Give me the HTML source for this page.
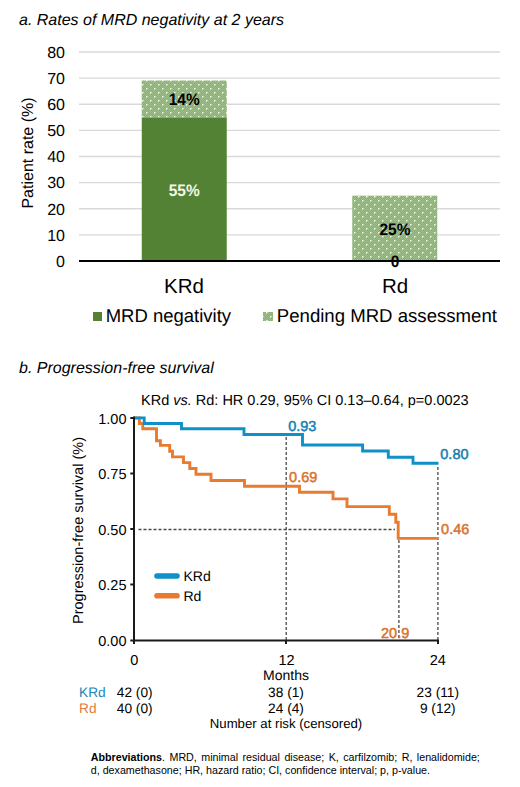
<!DOCTYPE html>
<html><head><meta charset="utf-8">
<style>
html,body{margin:0;padding:0;background:#fff;}
body{width:520px;height:787px;overflow:hidden;position:relative;font-family:"Liberation Sans",sans-serif;}
svg{position:absolute;left:0;top:0;}
text{font-family:"Liberation Sans",sans-serif;text-rendering:geometricPrecision;}
.foot{position:absolute;left:90.8px;font-size:10.7px;color:#000;white-space:nowrap;line-height:12.7px;}
</style></head>
<body>
<svg width="520" height="787" viewBox="0 0 520 787">
<defs>
<pattern id="dots" x="0" y="0" width="8" height="8" patternUnits="userSpaceOnUse">
<rect width="8" height="8" fill="#a0c08b"/>
<g fill="#8aad75"><rect x="1" y="0" width="1" height="1"/><rect x="3" y="0" width="1" height="1"/><rect x="5" y="0" width="1" height="1"/><rect x="7" y="0" width="1" height="1"/><rect x="0" y="1" width="1" height="1"/><rect x="2" y="1" width="1" height="1"/><rect x="4" y="1" width="1" height="1"/><rect x="6" y="1" width="1" height="1"/><rect x="1" y="2" width="1" height="1"/><rect x="3" y="2" width="1" height="1"/><rect x="5" y="2" width="1" height="1"/><rect x="7" y="2" width="1" height="1"/><rect x="0" y="3" width="1" height="1"/><rect x="2" y="3" width="1" height="1"/><rect x="4" y="3" width="1" height="1"/><rect x="6" y="3" width="1" height="1"/><rect x="1" y="4" width="1" height="1"/><rect x="3" y="4" width="1" height="1"/><rect x="5" y="4" width="1" height="1"/><rect x="7" y="4" width="1" height="1"/><rect x="0" y="5" width="1" height="1"/><rect x="2" y="5" width="1" height="1"/><rect x="4" y="5" width="1" height="1"/><rect x="6" y="5" width="1" height="1"/><rect x="1" y="6" width="1" height="1"/><rect x="3" y="6" width="1" height="1"/><rect x="5" y="6" width="1" height="1"/><rect x="7" y="6" width="1" height="1"/><rect x="0" y="7" width="1" height="1"/><rect x="2" y="7" width="1" height="1"/><rect x="4" y="7" width="1" height="1"/><rect x="6" y="7" width="1" height="1"/></g>
<g fill="#c4dfb2"><rect x="3" y="0" width="1" height="1"/><rect x="2" y="1" width="1" height="1"/><rect x="7" y="4" width="1" height="1"/><rect x="6" y="5" width="1" height="1"/></g>
<g fill="#eefae6"><rect x="2" y="0" width="1" height="1"/><rect x="6" y="4" width="1" height="1"/></g>
</pattern>
</defs>

<!-- ============ PANEL A ============ -->
<text x="19" y="25.2" font-size="16" font-style="italic" fill="#000">a. Rates of MRD negativity at 2 years</text>

<!-- gridlines -->
<g stroke="#d9d9d9" stroke-width="1.3">
<line x1="79" y1="52" x2="500" y2="52"/>
<line x1="79" y1="78.1" x2="500" y2="78.1"/>
<line x1="79" y1="104.25" x2="500" y2="104.25"/>
<line x1="79" y1="130.4" x2="500" y2="130.4"/>
<line x1="79" y1="156.5" x2="500" y2="156.5"/>
<line x1="79" y1="182.6" x2="500" y2="182.6"/>
<line x1="79" y1="208.75" x2="500" y2="208.75"/>
<line x1="79" y1="234.9" x2="500" y2="234.9"/>
</g>

<!-- y labels -->
<g font-size="16" fill="#000" text-anchor="end">
<text x="65" y="57.7">80</text>
<text x="65" y="83.8">70</text>
<text x="65" y="110">60</text>
<text x="65" y="136.1">50</text>
<text x="65" y="162.2">40</text>
<text x="65" y="188.3">30</text>
<text x="65" y="214.5">20</text>
<text x="65" y="240.6">10</text>
<text x="65" y="266.7">0</text>
</g>
<text transform="translate(33,153) rotate(-90)" font-size="16" text-anchor="middle" fill="#000">Patient rate (%)</text>

<!-- bars -->
<rect x="141.75" y="117.3" width="85" height="143.7" fill="#548235"/>
<rect x="141.75" y="80.5" width="85" height="36.8" fill="url(#dots)"/>
<rect x="352.25" y="195.7" width="85" height="65.3" fill="url(#dots)"/>

<!-- axis -->
<line x1="79" y1="261" x2="500" y2="261" stroke="#000" stroke-width="2"/>

<!-- bar labels -->
<g font-size="15.5" font-weight="bold" text-anchor="middle">
<text transform="translate(184.25,104.7) scale(1,1.07)" fill="#000">14%</text>
<text transform="translate(184.25,195.8) scale(1,1.07)" fill="#f1f9e8">55%</text>
<text transform="translate(395,234.7) scale(1,1.07)" fill="#000">25%</text>
<text transform="translate(395,266.9) scale(1,1.07)" fill="#000">0</text>
</g>

<!-- category labels -->
<g font-size="20.5" text-anchor="middle" fill="#000">
<text x="184" y="293.3">KRd</text>
<text x="395" y="293.4">Rd</text>
</g>

<!-- legend -->
<rect x="93" y="312" width="9" height="9" fill="#548235"/>
<text x="105.7" y="321.9" font-size="18.5" fill="#000">MRD negativity</text>
<rect x="263" y="312" width="10" height="9" fill="url(#dots)"/>
<text x="276.8" y="321.9" font-size="18.6" fill="#000">Pending MRD assessment</text>

<!-- ============ PANEL B ============ -->
<text x="19" y="372.9" font-size="16" font-style="italic" fill="#000">b. Progression-free survival</text>
<text x="141" y="404.6" font-size="14.5" fill="#000">KRd <tspan font-style="italic">vs.</tspan> Rd: HR 0.29, 95% CI 0.13–0.64, p=0.0023</text>

<!-- dashed reference lines -->
<g stroke="#4a4a4a" stroke-width="1.3" stroke-dasharray="3 2" fill="none">
<line x1="138.5" y1="529.5" x2="395" y2="529.5"/>
<line x1="286.2" y1="437" x2="286.2" y2="640"/>
<line x1="398.9" y1="540" x2="398.9" y2="640"/>
<line x1="437.9" y1="467" x2="437.9" y2="640"/>
</g>

<!-- curves -->
<path d="M134 418 H139.4 V423.5 H142.8 V428.8 H156.5 V440.8 H160.4 V445.4 H169.7 V451.2 H172.5 V456.9 H183.5 V462.6 H189.8 V468.5 H196 V474.3 H211 V480.5 H244.5 V486.2 H299.5 V492.3 H333 V498.9 H347 V506.6 H389.3 V514.2 H395.8 V522.3 H398.2 V538.4 H438.5" fill="none" stroke="#e97b30" stroke-width="2.9"/>
<path d="M134 417.9 H144.2 V423.5 H181.5 V428.7 H244 V434.5 H302.5 V445 H362.6 V451 H388.3 V457.2 H413 V463.3 H438.5" fill="none" stroke="#1090c8" stroke-width="2.9"/>

<!-- axes -->
<g stroke="#1a1a1a" stroke-width="2" fill="none">
<line x1="134" y1="416.5" x2="134" y2="644"/>
<line x1="133" y1="640.5" x2="439" y2="640.5"/>
<line x1="130.3" y1="418" x2="134" y2="418"/>
<line x1="130.3" y1="473.5" x2="134" y2="473.5"/>
<line x1="130.3" y1="529" x2="134" y2="529"/>
<line x1="130.3" y1="584.5" x2="134" y2="584.5"/>
<line x1="130.3" y1="640.5" x2="134" y2="640.5"/>
<line x1="286" y1="640" x2="286" y2="644"/>
<line x1="438" y1="640" x2="438" y2="644"/>
</g>

<!-- y labels -->
<g font-size="14.5" fill="#000" text-anchor="end">
<text x="126.5" y="423.8">1.00</text>
<text x="126.5" y="479.2">0.75</text>
<text x="126.5" y="534.7">0.50</text>
<text x="126.5" y="590.2">0.25</text>
<text x="126.5" y="646.3">0.00</text>
</g>
<text transform="translate(83,530.5) rotate(-90)" font-size="14.5" text-anchor="middle" fill="#000">Progression-free survival (%)</text>

<!-- x labels -->
<g font-size="14.5" fill="#000" text-anchor="middle">
<text x="134.2" y="664.7">0</text>
<text x="286.5" y="664.7">12</text>
<text x="437.8" y="664.7">24</text>
</g>
<text x="286" y="680.1" font-size="14" text-anchor="middle" fill="#000">Months</text>

<!-- value labels -->
<g font-size="14.5" stroke-width="0.5">
<text x="288.2" y="430.8" fill="#167fb0" stroke="#167fb0">0.93</text>
<text x="440.3" y="459.1" fill="#167fb0" stroke="#167fb0">0.80</text>
<text x="289.1" y="482.2" fill="#d9722e" stroke="#d9722e">0.69</text>
<text x="441.1" y="534.1" fill="#d9722e" stroke="#d9722e">0.46</text>
<text x="381" y="638.1" fill="#d9722e" stroke="#d9722e">20.9</text>
</g>

<!-- legend -->
<line x1="157" y1="576" x2="177" y2="576" stroke="#1090c8" stroke-width="5.6" stroke-linecap="round"/>
<line x1="157" y1="595.7" x2="177" y2="595.7" stroke="#e97b30" stroke-width="5.6" stroke-linecap="round"/>
<g font-size="14" fill="#000">
<text x="183.5" y="581.2">KRd</text>
<text x="183.5" y="600.8">Rd</text>
</g>

<!-- number at risk -->
<g font-size="13.7">
<text x="79" y="697" fill="#2286b8">KRd</text>
<text x="79" y="713" fill="#df7b3d">Rd</text>
<text x="116.8" y="697" fill="#000">42 (0)</text>
<text x="116.8" y="713" fill="#000">40 (0)</text>
<text x="286" y="697" fill="#000" text-anchor="middle">38 (1)</text>
<text x="286" y="713" fill="#000" text-anchor="middle">24 (4)</text>
<text x="437.8" y="697" fill="#000" text-anchor="middle">23 (11)</text>
<text x="437.8" y="713" fill="#000" text-anchor="middle">9 (12)</text>
</g>
<text x="286" y="728.2" font-size="13.2" text-anchor="middle" fill="#000">Number at risk (censored)</text>
</svg>

<div class="foot" style="top:751px;width:389px;text-align:justify;text-align-last:justify;"><b>Abbreviations</b>. MRD, minimal residual disease; K, carfilzomib; R, lenalidomide;</div>
<div class="foot" style="top:763.7px;">d, dexamethasone; HR, hazard ratio; CI, confidence interval; p, p-value.</div>
</body></html>
